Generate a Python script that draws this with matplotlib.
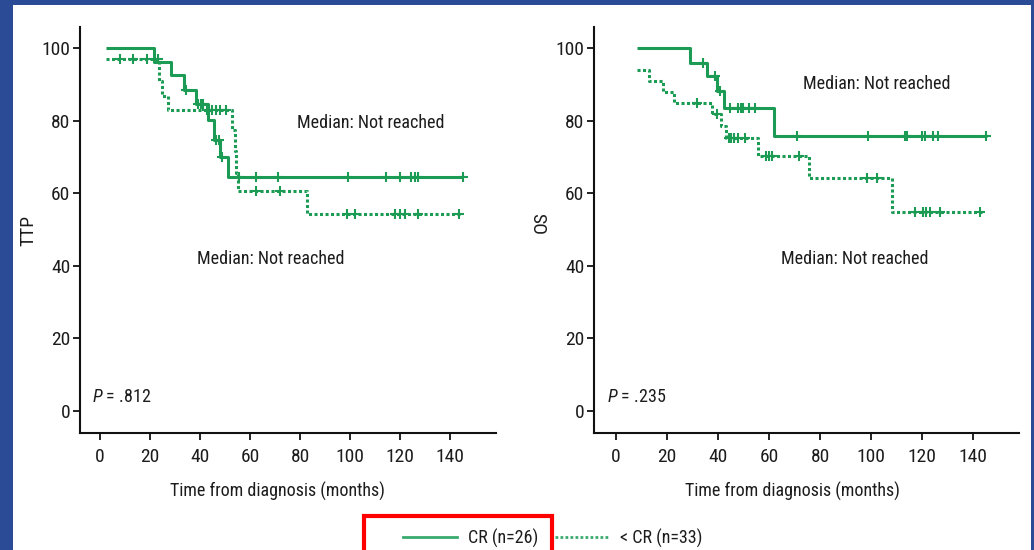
import numpy as np
import matplotlib
matplotlib.use("Agg")
import matplotlib.pyplot as plt
from matplotlib.lines import Line2D
from matplotlib.patches import Rectangle
from matplotlib import font_manager as fm

# ---------------- data ----------------
# TTP, CR (solid)
ttp_cr_start = (2.4, 100.0)
ttp_cr_times = [21.6, 28.5, 33.6, 38.2, 43.3, 45.6, 48.0, 51.3]
ttp_cr_surv = [96.2, 92.5, 88.5, 84.6, 80.3, 74.8, 70.0, 64.4]
ttp_cr_end = 145.3
ttp_cr_cens = [34.2, 39.2, 40.2, 41.3, 46.2, 47.5, 48.8, 55.5, 62.4, 71.0,
               99.3, 114.2, 120.0, 124.2, 125.8, 127.0, 145.3]

# TTP, <CR (dotted)
ttp_lt_start = (2.4, 97.0)
ttp_lt_times = [23.5, 24.7, 27.3, 52.7, 54.0, 54.5, 55.0, 82.7]
ttp_lt_surv = [90.9, 86.9, 82.8, 77.4, 71.5, 65.5, 60.6, 54.2]
ttp_lt_end = 144.0
ttp_lt_cens = [8.0, 13.2, 18.9, 23.1, 42.7, 44.7, 46.4, 48.0, 50.4, 62.2,
               72.0, 98.7, 102.0, 118.0, 120.0, 122.0, 127.3, 143.5]

# OS, CR (solid)
os_cr_start = (8.1, 100.0)
os_cr_times = [29.0, 35.5, 39.5, 42.5, 62.0]
os_cr_surv = [96.0, 92.3, 88.3, 83.6, 75.9]
os_cr_end = 145.5
os_cr_cens = [34.2, 38.8, 40.8, 44.7, 48.0, 49.0, 50.0, 52.0, 54.5, 71.1,
              98.9, 113.3, 114.0, 119.9, 121.0, 124.4, 126.4, 145.1]

# OS, <CR (dotted)
os_lt_start = (8.1, 94.0)
os_lt_times = [13.1, 18.6, 22.7, 37.6, 41.0, 43.1, 55.8, 75.8, 108.1]
os_lt_surv = [90.9, 87.9, 84.9, 81.8, 78.5, 75.3, 70.3, 64.2, 54.9]
os_lt_end = 143.5
os_lt_cens = [31.8, 39.7, 44.2, 45.2, 46.3, 48.0, 50.5, 59.0, 60.0, 61.0,
              71.9, 98.3, 102.2, 117.3, 120.5, 121.5, 123.0, 127.1, 142.7]

x_ticks = [0, 20, 40, 60, 80, 100, 120, 140]
y_ticks = [0, 20, 40, 60, 80, 100]
y_labels = ["TTP", "OS"]
p_texts = [".812", ".235"]
median_text = "Median: Not reached"
x_label = "Time from diagnosis (months)"
legend_labels = ["CR (n=26)", "< CR (n=33)"]

# ---------------- style ----------------
avail = {f.name for f in fm.fontManager.ttflist}
fam, FS, FT = "Liberation Sans", 12, 12.5
for cand, size, tsize in [("Liberation Sans Narrow", 14, 14), ("Roboto Condensed", 13, 14),
                          ("Archivo Narrow", 14, 14), ("PT Sans Narrow", 14.5, 14.5)]:
    if cand in avail:
        fam, FS, FT = cand, size, tsize
        break
plt.rcParams["font.family"] = [fam, "DejaVu Sans"]
plt.rcParams["mathtext.fontset"] = "custom"
plt.rcParams["mathtext.it"] = fam + ":italic"
plt.rcParams["mathtext.rm"] = fam

GREEN = "#1c9b55"
TXT = "#1c1c1c"
W, H = 1034, 550

fig = plt.figure(figsize=(W / 100, H / 100), dpi=100)
fig.patch.set_facecolor("#2B4B96")
fig.add_artist(Rectangle((13 / W, 0), (1031 - 13) / W, 1 - 5 / H,
                         transform=fig.transFigure, facecolor="white",
                         edgecolor="none", zorder=0))

def step_curve(start, times, surv, end):
    xs = [start[0]] + list(times) + [end]
    ys = [start[1]] + list(surv) + [surv[-1]]
    return np.array(xs), np.array(ys)

def level_at(start, times, surv, t):
    xs = np.array(times)
    ys = np.array(surv)
    idx = np.searchsorted(xs, t, side="right") - 1
    return np.where(idx < 0, start[1], ys[np.clip(idx, 0, None)])

def draw_curve(ax, start, times, surv, end, cens, ls):
    xs, ys = step_curve(start, times, surv, end)
    ax.step(xs, ys, where="post", color=GREEN, lw=2.2, linestyle=ls,
            solid_capstyle="butt")
    c = np.array(cens)
    ax.plot(c, level_at(start, times, surv, c), linestyle="none", marker="+",
            markersize=7, markeredgewidth=1.5, color=GREEN)

dotted = (0, (1, 0.8))

axes_px = [(80, 496, -8.0, 158.4), (594, 1019, -8.6, 158.0)]
curves = [
    [(ttp_cr_start, ttp_cr_times, ttp_cr_surv, ttp_cr_end, ttp_cr_cens, "-"),
     (ttp_lt_start, ttp_lt_times, ttp_lt_surv, ttp_lt_end, ttp_lt_cens, dotted)],
    [(os_cr_start, os_cr_times, os_cr_surv, os_cr_end, os_cr_cens, "-"),
     (os_lt_start, os_lt_times, os_lt_surv, os_lt_end, os_lt_cens, dotted)],
]
text_pos = [
    dict(up=(78.7, 79.4), low=(38.7, 41.8), p=(-3.3, 3.9), ylab=0.50, xlab=0.4736),
    dict(up=(73.5, 90.2), low=(64.6, 41.8), p=(-3.4, 3.8), ylab=0.52, xlab=0.4675),
]

top_px, bot_px = 27, 433
for i, (x0, x1, xl0, xl1) in enumerate(axes_px):
    ax = fig.add_axes([x0 / W, 1 - bot_px / H, (x1 - x0) / W, (bot_px - top_px) / H])
    ax.set_facecolor("none")
    for c in curves[i]:
        draw_curve(ax, *c)
    ax.set_xlim(xl0, xl1)
    ax.set_ylim(-6.06, 105.8)
    ax.set_xticks(x_ticks)
    ax.set_yticks(y_ticks)
    for s in ["top", "right"]:
        ax.spines[s].set_visible(False)
    for s in ["left", "bottom"]:
        ax.spines[s].set_linewidth(1.5)
        ax.spines[s].set_color("#111111")
    ax.tick_params(axis="y", length=5, width=1.3, pad=2, labelsize=FT,
                   colors="#111111", labelcolor=TXT)
    ax.tick_params(axis="x", length=5, width=1.3, pad=6, labelsize=FT,
                   colors="#111111", labelcolor=TXT)
    tp = text_pos[i]
    ax.set_ylabel(y_labels[i], fontsize=FT, color=TXT)
    ax.yaxis.set_label_coords(-43 / (x1 - x0), tp["ylab"])
    ax.set_xlabel(x_label, fontsize=FS, color=TXT)
    ax.xaxis.set_label_coords(tp["xlab"], -0.12)
    ax.text(*tp["up"], median_text, fontsize=FS, color=TXT, ha="left", va="center")
    ax.text(*tp["low"], median_text, fontsize=FS, color=TXT, ha="left", va="center")
    ax.text(*tp["p"], r"$P$ = " + p_texts[i], fontsize=FS, color=TXT,
            ha="left", va="center")

handles = [Line2D([], [], color="#3aaa6e", lw=2.0, linestyle="-"),
           Line2D([], [], color="#3aaa6e", lw=2.0, linestyle=dotted)]
fig.legend(handles, legend_labels, loc="center left",
           bbox_to_anchor=(403 / W, 1 - 538 / H), ncol=2, frameon=False,
           borderpad=0, borderaxespad=0, handlelength=3.0,
           handletextpad=0.6, columnspacing=0.9, fontsize=FS,
           labelcolor=TXT)

fig.add_artist(Rectangle((364 / W, -0.1), (552 - 364) / W, (1 - 516 / H) + 0.1,
                         transform=fig.transFigure, facecolor="none",
                         edgecolor="#ff0000", lw=3.0, zorder=5))

fig.savefig("out.png", dpi=100, facecolor=fig.get_facecolor())
